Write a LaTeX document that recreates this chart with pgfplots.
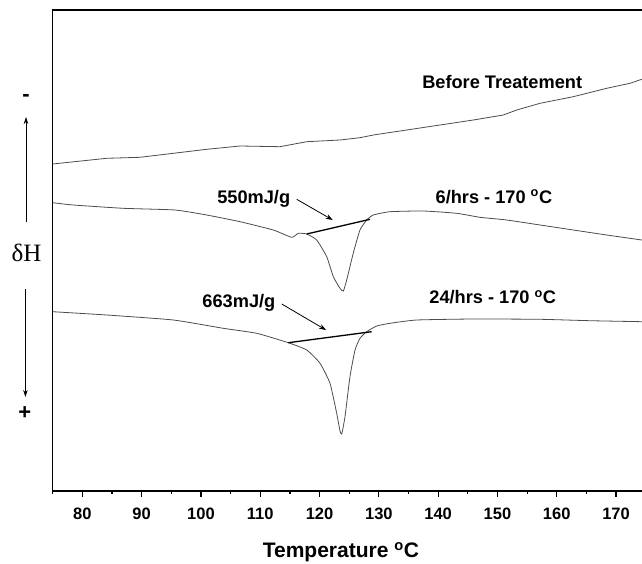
\documentclass[border=0pt]{standalone}
\usepackage{fontspec}
\setmainfont{Liberation Sans}
\newfontfamily\seriffont{Liberation Serif}
\usepackage{pgfplots}
\pgfplotsset{compat=1.18}
\usetikzlibrary{arrows.meta}
\begin{document}
\begin{tikzpicture}
\begin{axis}[
  name=ax,
  scale only axis,
  width=593pt, height=481pt,
  xmin=75, xmax=175, ymin=0, ymax=481,
  clip=false,
  axis line style={line width=1.3pt},
  xtick={80,90,...,170},
  minor xtick={75,85,...,175},
  ytick=\empty,
  tick align=outside,
  xtick pos=bottom,
  major tick length=5.7pt,
  minor tick length=2.8pt,
  every tick/.style={black, line width=1.2pt},
  /pgf/number format/assume math mode=true,
  xticklabel style={font=\fontsize{16.5}{16.5}\selectfont\bfseries, yshift=-8pt},
  xlabel={Temperature \textsuperscript{o}C},
  every axis x label/.style={at={(axis description cs:0.486,0)}, anchor=center, yshift=-61pt, font=\fontsize{21}{21}\selectfont\bfseries},
]
% Before treatment
\addplot[black!70, line width=0.8pt] coordinates {
(75,327) (84.11,332.7) (89.72,333.7) (95.34,337.7) (100.97,341.7) (106.59,345)
(113.33,344.3) (117.83,349.3) (123.45,351) (126.82,353.3) (129.06,356)
(134.70,361) (140.31,366) (145.93,371) (150.99,376) (153.25,381) (157.18,387.7)
(162.79,394.3) (168.42,402.7) (172.35,407.7) (174.33,411.7) (175,413)
};
% 6 hrs
\addplot[black!70, line width=0.8pt, smooth, tension=0.3] coordinates {
(75,288.3) (78.47,286) (86.91,282.7) (95.62,281) (100.97,276) (106.59,269.3)
(112.20,261) (115.30,253.7) (116.42,257.7) (117.83,257) (119.52,251)
(121.21,234.3) (122.32,214.3) (123.45,202.7) (124.01,200) (124.58,211)
(125.69,238) (126.82,261) (127.95,271) (129.06,276) (131.88,279.3)
(137.50,280) (143.13,277.7) (147.06,273.7) (151.56,271) (157.18,266)
(162.79,261) (168.42,256) (174.33,251) (175,250)
};
% 24 hrs
\addplot[black!70, line width=0.8pt, smooth, tension=0.3] coordinates {
(75,179.3) (84.11,176) (95.34,171) (103.77,162.7) (109.40,157.7) (114.73,148.3)
(117.83,141) (120.08,127.7) (121.76,107.7) (122.89,77.7) (123.45,60)
(123.74,57) (124.29,74.3) (125.13,114.3) (125.98,141) (126.82,152.7)
(127.95,159.3) (129.64,165) (131.88,167.7) (136.38,171) (145.93,172)
(157.18,171.7) (165.61,170.3) (174.33,169.3) (175,169.2)
};
% baselines
\addplot[black, line width=1.3pt] coordinates {(117.83,257) (128.51,271.7)};
\addplot[black, line width=1.3pt] coordinates {(114.73,148.3) (128.79,159.3)};
% arrows
\draw[-{Stealth[length=7pt,width=5pt]}, line width=0.8pt] (axis cs:116.15,291.7) -- (axis cs:122.22,271);
\draw[-{Stealth[length=7pt,width=5pt]}, line width=0.8pt] (axis cs:113.62,187) -- (axis cs:121.09,161);
% labels
\node[font=\fontsize{18.2}{18.2}\selectfont\bfseries] at (axis cs:150.8,409) {Before Treatement};
\node[font=\fontsize{18.2}{18.2}\selectfont\bfseries] at (axis cs:108.9,291.7) {550mJ/g};
\node[font=\fontsize{18.2}{18.2}\selectfont\bfseries] at (axis cs:149.4,294.3) {6/hrs - 170 \textsuperscript{o}C};
\node[font=\fontsize{18.2}{18.2}\selectfont\bfseries] at (axis cs:106.4,187.7) {663mJ/g};
\node[font=\fontsize{18.2}{18.2}\selectfont\bfseries] at (axis cs:149.2,193.7) {24/hrs - 170 \textsuperscript{o}C};
% y-side legend of heat flow direction
\node[font=\fontsize{22}{22}\selectfont\bfseries] at (axis cs:70.5,393) {-};
\draw[-{Stealth[length=7pt,width=4.5pt]}, line width=0.7pt] (axis cs:70.5,269) -- (axis cs:70.5,374);
\node[font=\fontsize{25}{25}\selectfont\seriffont] at (axis cs:70.6,238) {δH};
\draw[-{Stealth[length=7pt,width=4.5pt]}, line width=0.7pt] (axis cs:70.4,202) -- (axis cs:70.4,94);
\node[font=\fontsize{22}{22}\selectfont\bfseries] at (axis cs:70.3,78) {+};
\end{axis}
\pgfresetboundingbox
\useasboundingbox ([xshift=-52.7pt,yshift=-72pt]ax.south west) rectangle ([xshift=-3.7pt,yshift=10pt]ax.north east);
\end{tikzpicture}
\end{document}
